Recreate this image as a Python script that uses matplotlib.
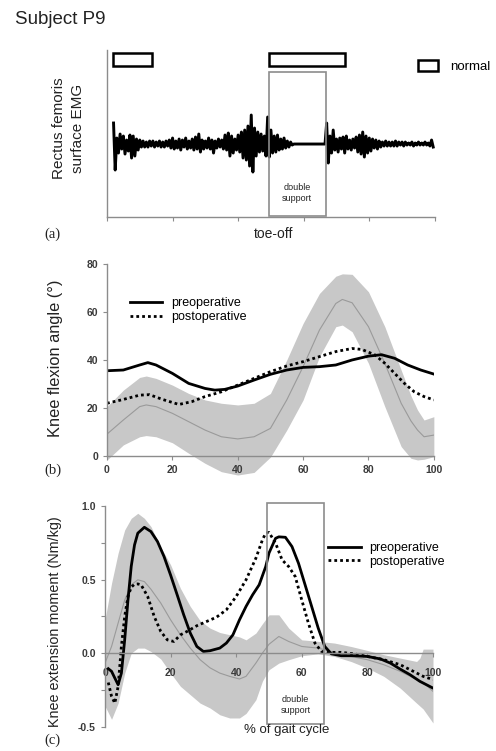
import numpy as np
import matplotlib
matplotlib.use("Agg")
import matplotlib.pyplot as plt
from matplotlib.patches import Rectangle, Patch

plt.rcParams['font.family'] = ['Liberation Sans', 'DejaVu Sans']

# ---- (a) rectus femoris EMG, sampled every 0.5 % from 2 % ----
emg = [
    2.1, -2.6, 0.6, -0.9, 1.0, -0.5, 0.8, -1.0, 0.4, -0.7,
    0.9, -1.4, 0.8, -1.2, 0.5, -0.6, 0.4, -0.3, 0.3, -0.3,
    0.2, -0.3, 0.3, -0.2, 0.3, -0.3, 0.2, -0.2, 0.3, -0.3,
    0.2, -0.3, 0.3, -0.2, 0.4, -0.4, 0.6, -0.5, 0.3, -0.4,
    0.5, -0.6, 0.4, -0.3, 0.6, -0.5, 0.3, -0.4, 0.5, -0.6,
    0.7, -0.5, 1.0, -0.8, 0.4, -0.5, 0.3, -0.4, 0.6, -0.5,
    0.4, -0.9, 0.3, -0.4, 0.5, -0.3, 0.4, -0.5, 0.9, -0.6,
    1.1, -1.2, 0.8, -0.9, 0.5, -0.6, 0.9, -0.8, 1.2, -1.4,
    1.4, -1.6, 1.8, -2.2, 2.9, -2.8, 1.6, -1.2, 1.2, -0.8,
    1.0, -0.7, 0.8, -1.2, 2.7, -1.3, 1.4, -0.9, 0.8, -0.8,
    0.9, -0.6, 0.5, -0.5, 0.6, -0.4, 0.3, -0.3, 0.2, -0.1,
    0.0, 0.0, 0.0, 0.0, 0.0, 0.0, 0.0, 0.0, 0.0, 0.0,
    0.0, 0.0, 0.0, 0.0, 0.0, 0.0, 0.0, 0.0, 0.0, 0.0,
    2.1, -1.9, 0.8, -0.9, 1.4, -0.6, 0.5, -0.8, 0.6, -0.5,
    0.7, -0.9, 0.8, -0.5, 0.4, -0.6, 0.5, -0.4, 0.7, -0.8,
    0.9, -1.0, 1.2, -1.3, 0.8, -0.9, 0.6, -0.7, 0.5, -0.4,
    0.4, -0.5, 0.3, -0.3, 0.2, -0.2, 0.3, -0.2, 0.2, -0.2,
    0.2, -0.2, 0.3, -0.2, 0.2, -0.1, 0.2, -0.2, 0.2, -0.1,
    0.1, -0.1, 0.2, -0.2, 0.1, -0.1, 0.2, -0.1, 0.1, -0.1,
    0.2, -0.1, 0.1, -0.2, 0.4, -0.3,
]
emg_x = np.linspace(2.0, 99.5, len(emg))
normal_on = [(1.7, 13.6), (49.5, 72.7)]
double_support = (49.3, 66.8)

# ---- (b) knee flexion angle ----
kx_pre = [0, 5, 10, 12.5, 15, 20, 25, 30, 33, 36, 40, 45, 50, 55, 60, 65, 70, 75, 80, 84, 88, 92, 96, 100]
k_pre = [35.5, 35.8, 37.9, 38.9, 37.9, 34.4, 30.2, 28.1, 27.4, 27.7, 29.1, 31.6, 34.0,
         35.8, 36.9, 37.2, 37.9, 40.0, 41.6, 42.2, 40.7, 37.9, 35.8, 34.1]
kx_post = [0, 5, 10, 13, 17, 22, 26, 30, 35, 40, 45, 50, 55, 60, 65, 70, 75, 78, 82, 85, 88, 91, 94, 97, 100]
k_post = [21.9, 23.5, 25.3, 25.5, 23.5, 21.4, 22.6, 24.7, 26.7, 29.5, 32.3, 35.1, 37.5,
          39.3, 41.4, 43.5, 44.8, 44.4, 42.1, 38.6, 34.4, 30.2, 26.7, 24.7, 23.3]
kx_norm = [0, 5, 10, 12, 15, 20, 25, 30, 35, 40, 45, 50, 55, 60, 65, 70, 72, 75, 80, 85, 90, 93, 95, 97, 100]
k_mean = [9.0, 14.9, 20.5, 21.2, 20.5, 17.7, 14.2, 10.7, 7.9, 7.0, 7.9, 11.4, 23.3, 37.2, 52.5,
          63.6, 65.3, 63.9, 53.9, 38.6, 21.9, 14.5, 10.7, 7.9, 8.6]
k_upper = [20.5, 27.4, 32.7, 33.3, 32.3, 29.5, 26.0, 23.3, 21.9, 21.2, 21.9, 26.0, 40.0, 55.3, 67.8,
           75.0, 76.0, 75.8, 68.5, 53.9, 35.8, 25.0, 19.1, 14.9, 16.3]
k_lower = [-1.8, 4.5, 7.9, 8.4, 7.9, 5.4, 1.0, -3.2, -6.7, -8.1, -7.0, -0.6, 10.7, 23.3, 41.4,
           53.9, 54.6, 51.8, 38.6, 20.5, 3.8, -1.1, -1.8, -1.5, -0.4]

# ---- (c) knee extension moment ----
mx_pre = [1, 2, 3, 4, 5, 6, 7, 8, 9, 10, 12, 14, 16, 18, 20, 22, 24, 26, 28, 30, 32, 35, 37, 39,
          41, 43, 45, 47, 49, 50, 52, 53, 55, 57, 59, 61, 63, 65, 67, 69, 72, 76, 80, 84, 87, 90,
          93, 96, 100]
m_pre = [-0.106, -0.124, -0.17, -0.215, -0.136, 0.09, 0.36, 0.59, 0.735, 0.815, 0.855, 0.826,
         0.758, 0.656, 0.53, 0.396, 0.26, 0.136, 0.045, 0.011, 0.016, 0.034, 0.068, 0.124, 0.226,
         0.317, 0.396, 0.464, 0.588, 0.68, 0.78, 0.79, 0.787, 0.724, 0.61, 0.464, 0.317, 0.17,
         0.045, -0.005, -0.018, -0.018, -0.023, -0.04, -0.068, -0.109, -0.147, -0.192, -0.238]
mx_post = [1, 2, 3, 4, 5, 6, 7, 8, 9, 10, 11, 13, 15, 17, 19, 21, 23, 25, 28, 31, 34, 37, 40, 43,
           46, 48, 49, 50, 52, 54, 56, 58, 60, 62, 64, 66, 68, 72, 76, 80, 85, 90, 94, 97, 100]
m_post = [-0.2, -0.294, -0.34, -0.226, 0.045, 0.249, 0.385, 0.448, 0.468, 0.47, 0.464, 0.385,
          0.249, 0.147, 0.09, 0.079, 0.124, 0.147, 0.186, 0.215, 0.244, 0.294, 0.385, 0.498,
          0.645, 0.77, 0.815, 0.82, 0.747, 0.633, 0.588, 0.52, 0.36, 0.204, 0.068, 0.011, 0.005,
          0.005, -0.005, -0.023, -0.045, -0.079, -0.124, -0.158, -0.18]
mx_norm = [0, 2, 4, 6, 8, 10, 12, 14, 17, 20, 23, 26, 29, 32, 35, 38, 41, 43, 46, 48, 50, 53, 56,
           60, 65, 70, 75, 80, 85, 90, 95, 96, 97, 100]
m_mean = [-0.068, 0.045, 0.204, 0.36, 0.464, 0.498, 0.486, 0.434, 0.34, 0.226, 0.124, 0.034,
          -0.045, -0.1, -0.136, -0.158, -0.176, -0.158, -0.068, 0.0, 0.06, 0.113, 0.079, 0.045,
          0.034, 0.005, -0.023, -0.045, -0.079, -0.124, -0.18, -0.19, -0.2, -0.26]
m_upper = [0.226, 0.475, 0.68, 0.837, 0.916, 0.95, 0.916, 0.86, 0.72, 0.6, 0.44, 0.317, 0.22,
           0.17, 0.14, 0.125, 0.11, 0.09, 0.136, 0.2, 0.26, 0.26, 0.17, 0.09, 0.08, 0.068, 0.045,
           0.018, -0.011, -0.034, -0.057, -0.034, 0.027, 0.027]
m_lower = [-0.36, -0.45, -0.34, -0.136, 0.0, 0.034, 0.034, 0.011, -0.04, -0.136, -0.226,
           -0.283, -0.34, -0.373, -0.419, -0.441, -0.441, -0.41, -0.317, -0.19, -0.113, -0.068,
           -0.045, -0.018, -0.005, -0.023, -0.057, -0.102, -0.158, -0.238, -0.34, -0.36, -0.38,
           -0.475]

SPINE = '#8c8c8c'
BAND = '#c8c8c8'
MEAN = '#9a9a9a'
TICK = '#3a3a3a'


def style_axes(ax):
    for s in ['top', 'right']:
        ax.spines[s].set_visible(False)
    for s in ['left', 'bottom']:
        ax.spines[s].set_color(SPINE)
        ax.spines[s].set_linewidth(1.0)
    ax.tick_params(colors=SPINE, labelcolor=TICK, length=3, width=0.8, labelsize=7.5)
    for lab in ax.get_xticklabels() + ax.get_yticklabels():
        lab.set_fontweight('bold')


fig = plt.figure(figsize=(4.96, 7.51), dpi=100)

# ---------------- panel (a) ----------------
axa = fig.add_axes([0.2157, 0.711, 0.661, 0.2224])
axa.plot(emg_x, emg, color='black', lw=2.1, solid_joinstyle='round')
for x0, x1 in normal_on:
    axa.add_patch(Rectangle((x0, 7.8), x1 - x0, 1.27, facecolor='white',
                            edgecolor='black', lw=1.8, zorder=3))
axa.add_patch(Rectangle((double_support[0], -7.2), double_support[1] - double_support[0], 14.4,
                        facecolor='none', edgecolor=SPINE, lw=1.2, zorder=2))
axa.text(sum(double_support) / 2, -4.9, 'double\nsupport', ha='center', va='center',
         fontsize=6.5, color='#222222', linespacing=1.3)
axa.set_xlim(0, 100)
axa.set_ylim(-7.3, 9.4)
axa.set_xticks(np.arange(0, 101, 20))
axa.set_xticklabels([])
axa.set_yticks([])
style_axes(axa)
axa.legend(handles=[Patch(facecolor='white', edgecolor='black', lw=1.8, label='normal')],
           loc='center left', bbox_to_anchor=(0.93, 0.9), frameon=False, fontsize=9.5,
           handlelength=1.5, handleheight=0.95, handletextpad=0.9, borderpad=0)

# ---------------- panel (b) ----------------
axb = fig.add_axes([0.2157, 0.3614, 0.659, 0.2867])
axb.fill_between(kx_norm, k_lower, k_upper, color=BAND, lw=0, zorder=1)
axb.plot(kx_norm, k_mean, color=MEAN, lw=0.8, zorder=1.5)
axb.plot(kx_pre, k_pre, color='black', lw=2.0, label='preoperative', zorder=2.2)
axb.plot(kx_post, k_post, color='black', lw=2.0, ls=(0, (1, 1.1)), label='postoperative', zorder=2.2)
axb.set_xlim(0, 100)
axb.set_ylim(-10, 80)
axb.spines['bottom'].set_position(('data', 0))
axb.spines['left'].set_bounds(0, 80)
axb.set_xticks(np.arange(0, 101, 20))
axb.set_yticks(np.arange(0, 81, 20))
style_axes(axb)
axb.legend(loc='upper left', bbox_to_anchor=(0.07, 0.848), frameon=False, fontsize=9,
           handlelength=2.6, handletextpad=0.7, labelspacing=0.15, borderpad=0, borderaxespad=0)

# ---------------- panel (c) ----------------
axc = fig.add_axes([0.2117, 0.0324, 0.6613, 0.2939])
axc.fill_between(mx_norm, m_lower, m_upper, color=BAND, lw=0, zorder=1)
axc.plot(mx_norm, m_mean, color=MEAN, lw=0.8, zorder=1.5)
axc.plot(mx_pre, m_pre, color='black', lw=2.0, label='preoperative', zorder=2.2)
axc.plot(mx_post, m_post, color='black', lw=2.0, ls=(0, (1, 1.1)), label='postoperative', zorder=2.2)
axc.add_patch(Rectangle((double_support[0], -0.48), double_support[1] - double_support[0], 1.5,
                        facecolor='none', edgecolor=SPINE, lw=1.2, zorder=4, clip_on=False))
axc.text(sum(double_support) / 2, -0.35, 'double\nsupport', ha='center', va='center',
         fontsize=6.5, color='#222222', linespacing=1.3)
axc.set_xlim(0, 100)
axc.set_ylim(-0.5, 1.0)
axc.spines['bottom'].set_position(('data', 0))
axc.set_xticks(np.arange(0, 101, 20))
axc.set_yticks(np.arange(-0.5, 1.01, 0.25))
axc.set_yticklabels(['-0.5', '', '0.0', '', '0.5', '', '1.0'])
style_axes(axc)
axc.tick_params(axis='x', pad=8)
axc.legend(loc='upper left', bbox_to_anchor=(0.68, 0.837), frameon=False, fontsize=9,
           handlelength=2.6, handletextpad=0.7, labelspacing=0.15, borderpad=0, borderaxespad=0)

# ---------------- labels ----------------
fig.text(0.030, 0.9734, 'Subject P9', fontsize=13.5, ha='left', va='center', color='#222222')
fig.text(0.138, 0.8296, 'Rectus femoris\nsurface EMG', fontsize=11, rotation=90,
         ha='center', va='center', linespacing=1.45, color='#222222')
fig.text(0.111, 0.523, 'Knee flexion angle (\u00b0)', fontsize=11.8, rotation=90,
         ha='center', va='center', color='#222222')
fig.text(0.111, 0.1724, 'Knee extension moment (Nm/kg)', fontsize=10.4, rotation=90,
         ha='center', va='center', color='#222222')
fig.text(0.5524, 0.6884, 'toe-off', fontsize=10, ha='center', va='center', color='#222222')
fig.text(0.5786, 0.028, '% of gait cycle', fontsize=9.5, ha='center', va='center', color='#222222')
for lbl, y in [('(a)', 0.6884), ('(b)', 0.374), ('(c)', 0.0146)]:
    fig.text(0.106, y, lbl, fontsize=10.5, ha='center', va='center',
             family='Liberation Serif', color='#222222')

fig.savefig('out.png', dpi=100)
